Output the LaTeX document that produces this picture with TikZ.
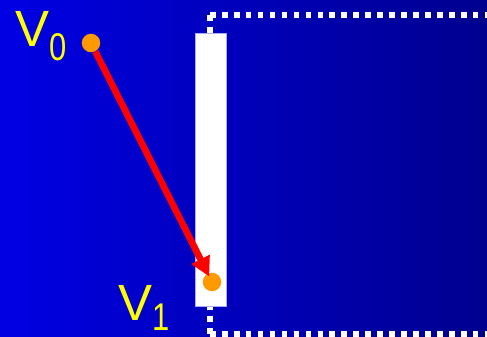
\documentclass[tikz,border=0pt]{standalone}
\usepackage{fontspec}
\setmainfont{Liberation Sans}
\usetikzlibrary{arrows.meta}
\definecolor{bgleft}{RGB}{0,0,228}
\definecolor{bgright}{RGB}{0,0,142}
\definecolor{dotorange}{RGB}{255,153,0}
\definecolor{labelyellow}{RGB}{255,255,0}
\definecolor{barrim}{RGB}{170,170,255}
\newcommand{\subidx}[2]{\raisebox{#1}{\scalebox{0.8}[1]{\fontsize{22pt}{22pt}\selectfont #2}}}
\begin{document}
\begin{tikzpicture}[
  x=0.02cm, y=-0.02cm,
  vertex/.style={
    circle,
    fill=dotorange,
    inner sep=0pt,
    minimum size=0.37cm
  },
  vlabel/.style={
    anchor=base west,
    inner sep=0pt,
    text=labelyellow,
    font=\fontsize{29pt}{29pt}\selectfont
  },
  boundary/.style={white, line width=3.2pt, dash pattern=on 3.2pt off 3.6pt},
  arrow/.style={-{Triangle[length=11pt,width=11pt]}, red, line width=3.8pt, shorten >=-2pt}
]
% background
\fill[left color=bgleft, right color=bgright] (0,0) rectangle (487,337);
\begin{scope}
\clip (0,0) rectangle (487,337);
\draw[boundary] (210,15) -- (500,15);
\draw[boundary] (210,15) -- (210,180);
\draw[boundary] (210,334) -- (500,334);
\draw[boundary] (210,334) -- (210,180);
\end{scope}
% wall
\filldraw[fill=white, draw=barrim, line width=0.3pt] (195,33) rectangle (226,306);

\node[vlabel] (l0) at (15,47) {V\subidx{-0.27cm}{0}};
\node[vlabel] (l1) at (118,321) {V\subidx{-0.2cm}{1}};

\node[vertex] (v0) at (91,43) {};
\node[vertex] (v1) at (212,282) {};

\draw[arrow] (v0) -- (v1);
\end{tikzpicture}
\end{document}
